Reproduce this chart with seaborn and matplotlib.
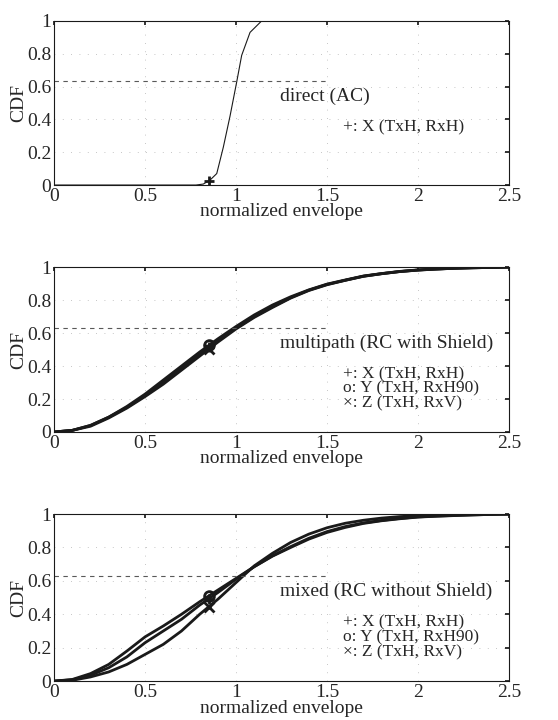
import numpy as np
import pandas as pd
import seaborn as sns
import matplotlib.pyplot as plt

# normalized envelope grid
env = [0.0, 0.1, 0.2, 0.3, 0.4, 0.5, 0.6, 0.7, 0.8, 0.9, 1.0, 1.1, 1.2,
       1.3, 1.4, 1.5, 1.6, 1.7, 1.8, 1.9, 2.0, 2.1, 2.2, 2.3, 2.4, 2.5]

# direct (AC)
direct_x = [0.0, 0.78, 0.82, 0.857, 0.894, 0.93, 0.967, 1.004, 1.031, 1.077, 1.141, 2.5]
direct_cdf = [0.0, 0.0, 0.006, 0.03, 0.07, 0.23, 0.42, 0.63, 0.79, 0.93, 1.0, 1.0]

# multipath (RC with Shield)
multi_X = [0, .01, .04, .09, .15, .22, .30, .39, .47, .555, .63, .70, .76,
           .815, .86, .895, .92, .945, .96, .973, .982, .988, .993, .996, .998, 1.0]
multi_Y = [0, .01, .04, .09, .155, .23, .315, .40, .485, .565, .64, .71, .77,
           .82, .862, .897, .922, .946, .961, .974, .983, .989, .993, .996, .998, 1.0]
multi_Z = [0, .01, .035, .085, .145, .215, .29, .375, .46, .545, .625, .695, .755,
           .812, .858, .893, .92, .944, .96, .973, .982, .988, .993, .996, .998, 1.0]

# mixed (RC without Shield)
mixed_X = [0, .008, .035, .08, .145, .23, .30, .37, .455, .53, .61, .685, .75,
           .805, .855, .895, .925, .947, .962, .974, .983, .988, .992, .995, .998, 1.0]
mixed_Y = [0, .01, .045, .10, .18, .265, .33, .40, .475, .545, .615, .685, .748,
           .80, .85, .89, .92, .944, .96, .972, .982, .987, .991, .995, .998, 1.0]
mixed_Z = [0, .005, .025, .055, .10, .16, .22, .30, .40, .49, .59, .69, .765,
           .83, .88, .918, .945, .963, .976, .985, .99, .994, .997, .999, 1.0, 1.0]

mark_x = 0.85
ref_level = 0.632

panels = [
    ("direct (AC)", [("+", direct_x, direct_cdf)],
     ["+: X (TxH, RxH)"]),
    ("multipath (RC with Shield)",
     [("+", env, multi_X), ("o", env, multi_Y), ("x", env, multi_Z)],
     ["+: X (TxH, RxH)", "o: Y (TxH, RxH90)", "\u00d7: Z (TxH, RxV)"]),
    ("mixed (RC without Shield)",
     [("+", env, mixed_X), ("o", env, mixed_Y), ("x", env, mixed_Z)],
     ["+: X (TxH, RxH)", "o: Y (TxH, RxH90)", "\u00d7: Z (TxH, RxV)"]),
]

sns.set_theme(style="white")
plt.rcParams['font.family'] = ['Liberation Serif', 'DejaVu Serif']

fig = plt.figure(figsize=(5.58, 7.2), dpi=100)
boxes = [[0.097, 0.743, 0.815, 0.228],
         [0.097, 0.400, 0.815, 0.229],
         [0.097, 0.054, 0.815, 0.232]]

for i, (title, series, legend) in enumerate(panels):
    ax = fig.add_axes(boxes[i])
    lw = 0.8 if i == 0 else 2.0
    for mk, xs, ys in series:
        df = pd.DataFrame({"x": xs, "y": ys})
        sns.lineplot(data=df, x="x", y="y", ax=ax, color="k", lw=lw,
                     estimator=None, sort=False)
        my = np.interp(mark_x, xs, ys)
        ax.plot([mark_x], [my], marker=mk, color="k", ms=7, mew=2,
                mfc="none", ls="none")
    ax.hlines(ref_level, 0, 1.5, colors="0.35", linestyles=(0, (4, 4)), lw=0.8)
    ax.set_xlim(0, 2.5)
    ax.set_ylim(0, 1)
    ax.set_xticks([0, 0.5, 1, 1.5, 2, 2.5])
    ax.set_xticklabels(["0", "0.5", "1", "1.5", "2", "2.5"])
    ax.set_yticks([0, 0.2, 0.4, 0.6, 0.8, 1])
    ax.set_yticklabels(["0", "0.2", "0.4", "0.6", "0.8", "1"])
    ax.grid(True, ls=(0, (1, 9)), color="0.7", lw=0.6)
    ax.tick_params(direction="in", length=3, labelsize=14, pad=2,
                   top=True, right=True, color="k")
    for s in ax.spines.values():
        s.set_color("k")
        s.set_linewidth(0.8)
    ax.set_xlabel("normalized envelope", fontsize=14, labelpad=-1)
    ax.set_ylabel("CDF", fontsize=14, labelpad=0)
    ax.text(1.24, 0.54, title, fontsize=14, va="center", ha="left")
    for j, t in enumerate(legend):
        ax.text(1.59, 0.35 - j * 0.088, t, fontsize=12.5, va="center", ha="left")

fig.savefig("out.png", dpi=100)
